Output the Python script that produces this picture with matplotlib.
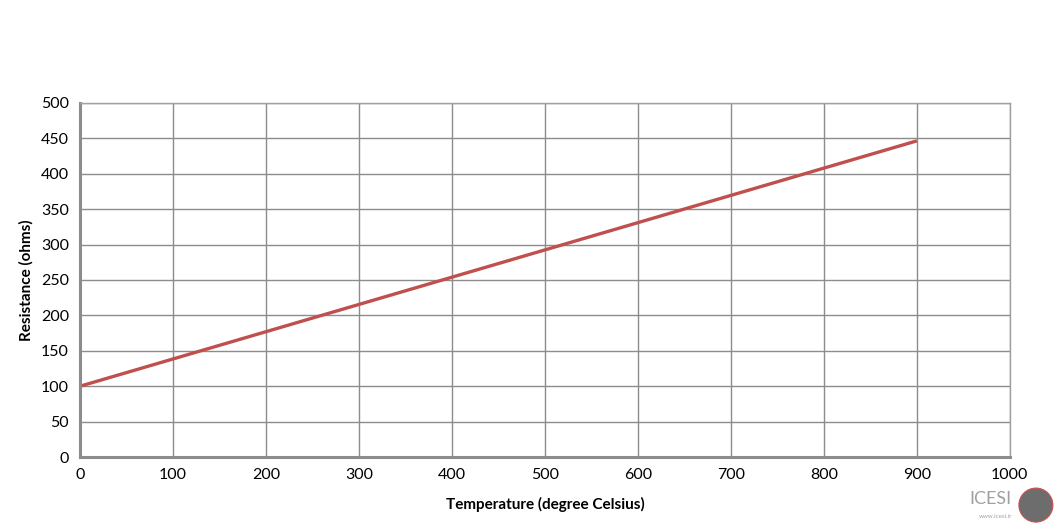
import matplotlib.pyplot as plt
from matplotlib.patches import Ellipse

# ========== DATA ==========
temperature = [0, 100, 200, 300, 400, 500, 600, 700, 800, 900]
resistance = [100, 138.5, 177, 215.5, 254, 292.5, 331, 369.5, 408, 446.5]
x_ticks = [0, 100, 200, 300, 400, 500, 600, 700, 800, 900, 1000]
y_ticks = [0, 50, 100, 150, 200, 250, 300, 350, 400, 450, 500]

plt.rcParams['font.family'] = ['Lato', 'DejaVu Sans']

fig = plt.figure(figsize=(10.63, 5.30), dpi=100)
ax = fig.add_axes([0.0753, 0.1377, 0.8747, 0.668])

ax.plot(temperature, resistance, color='#c0504d', linewidth=2.4, solid_capstyle='butt')

ax.set_xlim(0, 1000)
ax.set_ylim(0, 500)
ax.set_xticks(x_ticks)
ax.set_yticks(y_ticks)
ax.tick_params(length=0, labelsize=11.5, pad=8, colors='black')
ax.grid(True, color='#8c8c8c', linewidth=1.0)
ax.set_axisbelow(True)

for side in ['top', 'right']:
    ax.spines[side].set_color('#a0a0a0')
    ax.spines[side].set_linewidth(1.0)
for side in ['left', 'bottom']:
    ax.spines[side].set_color('#8c8c8c')
    ax.spines[side].set_linewidth(2.2)

ax.set_xlabel('Temperature (degree Celsius)', fontsize=11, fontweight='bold', labelpad=11)
ax.set_ylabel('Resistance (ohms)', fontsize=11, fontweight='bold', labelpad=5)

# small logo in the corner
fig.text(0.952, 0.058, 'ICESI', fontsize=13, color='#a0a0a0', ha='right', va='center')
fig.text(0.952, 0.025, 'www.icesi.ir', fontsize=4.5, color='#a0a0a0', ha='right', va='center')
logo = Ellipse((0.9745, 0.047), 34 / 1063, 34 / 530, transform=fig.transFigure,
               facecolor='#6d6d6d', edgecolor='#d05050', linewidth=0.8)
fig.patches.append(logo)

fig.savefig('out.png', dpi=100)
